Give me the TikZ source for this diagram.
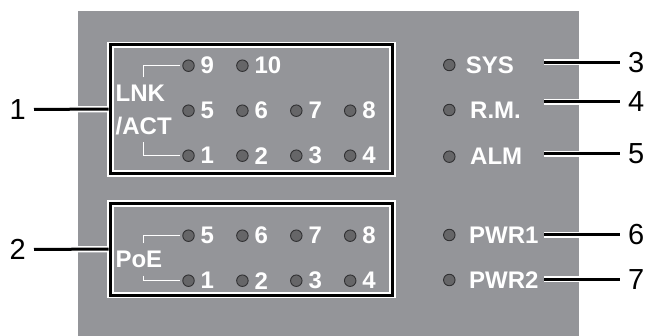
\documentclass[tikz,border=0pt]{standalone}
\usepackage{fontspec}
\setmainfont{Liberation Sans}
\usetikzlibrary{positioning}

\definecolor{panelgray}{RGB}{148,149,153}
\definecolor{ledgray}{RGB}{102,102,104}
\definecolor{ledrim}{RGB}{48,48,50}

\begin{document}
\begin{tikzpicture}[
		x=1pt,
		y=-1pt,
		panel/.style={fill=panelgray},
		ledbox/.style={draw=white, double=black, line width=1.7pt, double distance=3pt, minimum width=282pt, inner sep=0pt, outer sep=0pt},
		led/.style={circle, draw=ledrim, fill=ledgray, line width=0.9pt, minimum size=11.5pt, inner sep=0pt, outer sep=0pt},
		ledtxt/.style={text=white, font=\fontsize{24}{28}\selectfont\bfseries, inner xsep=0pt, inner ysep=7.5pt},
		lednum/.style={text=white, font=\fontsize{24}{28}\selectfont\bfseries, inner sep=0pt},
		bracket/.style={draw=white, line width=1.2pt, shorten >=3pt},
		callout/.style={font=\fontsize{29}{32}\selectfont, inner xsep=8pt, inner ysep=0pt},
		leader/.style={draw=white, double=black, line width=1.6pt, double distance=3pt}
	]

	\useasboundingbox (0,0) rectangle (650,336);

	% Front panel
	\fill[panel] (78,11) rectangle (579,336);

	% Port LED groups
	\node[ledbox, minimum height=128.4pt] (lnkbox) at (251.5,109.2) {};
	\node[ledbox, minimum height=91.7pt] (poebox) at (251.5,249.2) {};

	% LNK/ACT LEDs: number/column/row
	\foreach \n/\c/\r in {9/0/0, 10/1/0, 5/0/1, 6/1/1, 7/2/1, 8/3/1, 1/0/2, 2/1/2, 3/2/2, 4/3/2} {
		\pgfmathsetmacro{\x}{188.5 + \c*53.9}
		\pgfmathsetmacro{\y}{65.7 + \r*45}
		\node[led] (lnk\n) at (\x,\y) {};
		\node[lednum, right=12pt of lnk\n.center] (lnknum\n) {\n};
	}

	% PoE LEDs: number/column/row
	\foreach \n/\c/\r in {5/0/0, 6/1/0, 7/2/0, 8/3/0, 1/0/1, 2/1/1, 3/2/1, 4/3/1} {
		\pgfmathsetmacro{\x}{188.5 + \c*53.9}
		\pgfmathsetmacro{\y}{235.7 + \r*45}
		\node[led] (poe\n) at (\x,\y) {};
		\node[lednum, right=12pt of poe\n.center] (poenum\n) {\n};
	}

	% Group labels
	\node[ledtxt, anchor=west] (lnk) at (115.4,93.3) {LNK};
	\node[ledtxt, anchor=west] (act) at (115.5,125.8) {/ACT};
	\node[ledtxt, anchor=west] (poe) at (115.3,259.5) {PoE};

	% Brackets
	\coordinate (brk) at (143.3,0);
	\draw[bracket] (brk |- lnk.north) |- (lnk9.west);
	\draw[bracket] (brk |- act.south) |- (lnk1.west);
	\draw[bracket] (brk |- poe.north) |- (poe5.west);
	\draw[bracket] (brk |- poe.south) |- (poe1.west);

	% System LEDs
	\foreach \name/\txt/\y/\tx in {
			sys/SYS/65/465.7,
			rm/R.M./110/470,
			alm/ALM/156.7/470,
			pwr1/PWR1/235/469,
			pwr2/PWR2/280/469
		} {
			\node[led] (\name) at (449.3,\y) {};
			\node[ledtxt, anchor=west] (\name txt) at (\tx,\y) {\txt};
		}

	% Callouts, left
	\node[callout, anchor=east] (c1) at (34,109.3) {1};
	\node[callout, anchor=east] (c2) at (34,249.3) {2};
	\draw[leader, shorten >=2pt] (c1.east) -- (lnkbox.west);
	\draw[leader, shorten >=2pt] (c2.east) -- (poebox.west);

	% Callouts, right
	\foreach \n/\y in {3/62.3, 4/101.7, 5/154, 6/234.7, 7/279.3} {
		\coordinate (lead\n) at (544,\y);
		\node[callout, anchor=west] (c\n) at (620,\y) {\n};
		\draw[leader] (lead\n) -- (c\n.west);
	}

\end{tikzpicture}
\end{document}
